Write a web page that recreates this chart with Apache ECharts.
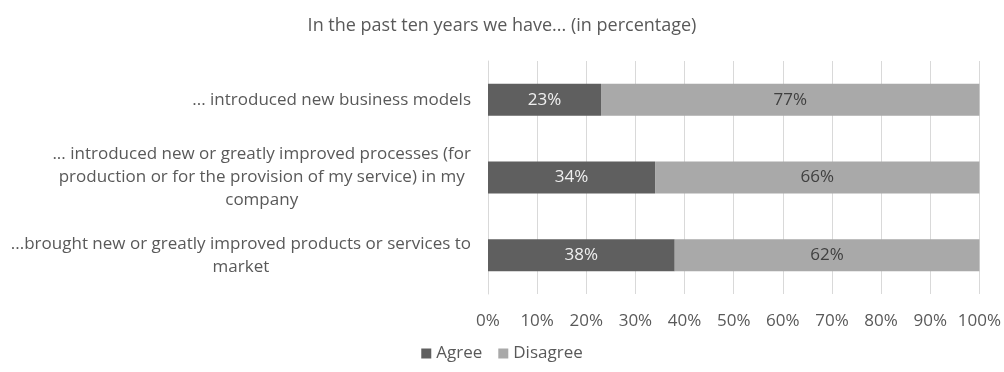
<!DOCTYPE html>
<html><head><meta charset="utf-8">
<script src="https://cdn.jsdelivr.net/npm/echarts@6/dist/echarts.min.js"></script>
<style>html,body{margin:0;padding:0;background:#fff}#c{width:1004px;height:372px}</style>
</head><body><div id="c"></div>
<script>
const title = 'In the past ten years we have... (in percentage)';
const categories = [
  '... introduced new business models',
  '... introduced new or greatly improved processes (for\nproduction or for the provision of my service) in my\ncompany',
  '...brought new or greatly improved products or services to\nmarket'
];
const agree = [23, 34, 38];
const disagree = [77, 66, 62];
const seriesNames = ['Agree', 'Disagree'];
const xTicks = [0, 10, 20, 30, 40, 50, 60, 70, 80, 90, 100];

const font = '"Open Sans", sans-serif';
const chart = echarts.init(document.getElementById('c'));
chart.setOption({
  animation: false,
  textStyle: { fontFamily: font },
  title: { text: title, left: 'center', top: 12,
    textStyle: { fontFamily: font, fontSize: 18, fontWeight: 'normal', color: '#595959' } },
  legend: { data: seriesNames, bottom: 5, left: 'center', itemWidth: 10, itemHeight: 10, itemGap: 16, icon: 'rect',
    textStyle: { fontFamily: font, fontSize: 17, color: '#595959', padding: [0, 0, 0, 0] } },
  grid: { left: 488, right: 23, top: 61, bottom: 78, containLabel: false },
  xAxis: { type: 'value', min: 0, max: 100, interval: 10,
    axisLabel: { formatter: v => v + '%', fontSize: 17, color: '#595959', margin: 19, fontFamily: font },
    splitLine: { show: true, lineStyle: { color: '#d9d9d9', width: 1 } },
    axisLine: { show: false }, axisTick: { show: false } },
  yAxis: { type: 'category', data: categories, inverse: true,
    axisLine: { show: true, lineStyle: { color: '#d9d9d9' } }, axisTick: { show: false },
    axisLabel: { fontSize: 17, color: '#595959', margin: 17, lineHeight: 23, fontFamily: font,
      formatter: v => v.split('\n').map(l => '{c|' + l + '}').join('\n'),
      rich: { c: { align: 'center', fontSize: 17, color: '#595959', lineHeight: 23, fontFamily: font } } } },
  series: [
    { name: seriesNames[0], type: 'bar', stack: 's', data: agree, barWidth: 32,
      itemStyle: { color: '#5f5f5f' },
      label: { show: true, position: 'inside', formatter: p => p.value + '%', color: '#f0f0f0', fontSize: 17, fontFamily: font } },
    { name: seriesNames[1], type: 'bar', stack: 's', data: disagree, barWidth: 32,
      itemStyle: { color: '#a9a9a9' },
      label: { show: true, position: 'inside', formatter: p => p.value + '%', color: '#404040', fontSize: 17, fontFamily: font } }
  ]
});
</script></body></html>
